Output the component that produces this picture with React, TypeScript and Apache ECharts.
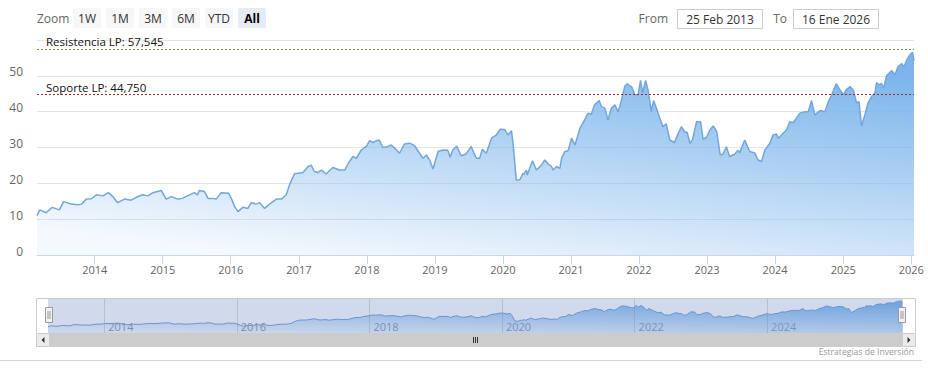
import React, { useEffect, useRef } from 'react';
import * as echarts from 'echarts';

// ---- DATA ----
const priceHistory: [string, number][] = [
  ['2013-02-25', 11.0], ['2013-03-12', 12.6], ['2013-04-15', 11.8], ['2013-05-17', 13.3], ['2013-06-25', 12.6],
  ['2013-07-18', 14.9], ['2013-08-27', 14.2], ['2013-10-02', 14.0], ['2013-10-22', 14.2], ['2013-11-17', 15.6],
  ['2013-12-14', 15.7], ['2014-01-10', 16.8], ['2014-02-14', 16.5], ['2014-03-15', 17.4], ['2014-04-08', 16.3],
  ['2014-05-04', 14.6], ['2014-06-10', 15.6], ['2014-07-15', 15.3], ['2014-08-12', 16.1], ['2014-09-16', 16.8],
  ['2014-10-13', 16.5], ['2014-11-09', 17.4], ['2014-12-24', 18.0], ['2015-01-20', 15.6], ['2015-02-16', 16.3],
  ['2015-03-22', 15.6], ['2015-04-16', 15.8], ['2015-05-14', 16.5], ['2015-06-20', 17.4], ['2015-07-07', 16.8],
  ['2015-07-16', 18.0], ['2015-08-13', 17.7], ['2015-09-01', 15.8], ['2015-09-27', 15.8], ['2015-10-15', 15.6],
  ['2015-11-11', 17.4], ['2015-12-21', 17.2], ['2016-01-04', 15.8], ['2016-01-22', 13.5], ['2016-02-09', 12.1],
  ['2016-03-06', 13.3], ['2016-04-02', 13.0], ['2016-04-20', 14.6], ['2016-05-17', 14.2], ['2016-06-04', 14.6],
  ['2016-07-01', 13.0], ['2016-07-27', 14.2], ['2016-09-02', 15.6], ['2016-09-29', 15.6], ['2016-10-25', 16.8],
  ['2016-11-13', 19.8], ['2016-12-09', 22.7], ['2017-01-23', 23.0], ['2017-02-19', 24.7], ['2017-03-08', 25.1],
  ['2017-03-25', 23.3], ['2017-04-12', 23.0], ['2017-05-01', 23.7], ['2017-05-27', 22.6], ['2017-07-02', 24.4],
  ['2017-08-07', 23.7], ['2017-09-04', 23.7], ['2017-09-21', 25.4], ['2017-10-18', 27.5], ['2017-11-05', 27.0],
  ['2017-12-02', 29.3], ['2017-12-29', 30.3], ['2018-01-16', 31.9], ['2018-02-03', 31.4], ['2018-02-22', 31.9],
  ['2018-03-09', 32.1], ['2018-03-27', 30.0], ['2018-04-23', 30.3], ['2018-05-11', 30.7], ['2018-05-29', 29.9],
  ['2018-06-25', 28.4], ['2018-07-22', 31.0], ['2018-08-18', 31.2], ['2018-09-14', 30.5], ['2018-10-11', 28.4],
  ['2018-10-29', 27.0], ['2018-11-16', 27.9], ['2018-12-04', 26.5], ['2018-12-22', 24.0], ['2019-01-18', 28.9],
  ['2019-02-14', 29.3], ['2019-03-11', 29.2], ['2019-03-24', 27.3], ['2019-04-07', 29.3], ['2019-04-28', 30.4],
  ['2019-05-22', 27.7], ['2019-06-18', 28.2], ['2019-07-15', 30.3], ['2019-08-11', 27.0], ['2019-08-29', 27.0],
  ['2019-09-13', 29.5], ['2019-10-04', 28.4], ['2019-11-01', 32.6], ['2019-11-27', 33.5], ['2019-12-18', 35.1],
  ['2020-01-11', 35.0], ['2020-01-29', 33.5], ['2020-02-16', 34.7], ['2020-02-25', 31.0], ['2020-03-13', 20.9],
  ['2020-04-01', 21.0], ['2020-04-18', 22.8], ['2020-04-23', 22.5], ['2020-05-06', 23.7], ['2020-05-11', 22.3],
  ['2020-06-08', 26.3], ['2020-06-29', 23.7], ['2020-07-26', 25.1], ['2020-08-13', 26.5], ['2020-08-31', 25.4],
  ['2020-09-18', 24.7], ['2020-09-27', 23.7], ['2020-10-15', 24.7], ['2020-11-02', 24.2], ['2020-11-11', 27.0],
  ['2020-11-29', 28.9], ['2020-12-16', 29.1], ['2021-01-04', 32.6], ['2021-01-22', 30.7], ['2021-02-18', 35.4],
  ['2021-03-15', 37.7], ['2021-04-02', 39.6], ['2021-04-20', 39.3], ['2021-05-07', 41.9], ['2021-06-01', 43.1],
  ['2021-06-13', 41.4], ['2021-07-01', 41.0], ['2021-07-18', 37.7], ['2021-08-06', 41.0], ['2021-08-24', 41.9],
  ['2021-09-11', 40.0], ['2021-09-29', 43.3], ['2021-10-16', 47.0], ['2021-10-29', 47.8], ['2021-11-12', 47.2],
  ['2021-11-22', 47.0], ['2021-12-09', 44.7], ['2021-12-27', 44.7], ['2022-01-09', 48.7], ['2022-01-20', 45.2],
  ['2022-02-05', 48.7], ['2022-02-19', 45.9], ['2022-03-08', 40.0], ['2022-03-20', 43.1], ['2022-04-04', 41.0],
  ['2022-04-22', 38.2], ['2022-05-09', 35.8], ['2022-05-27', 36.6], ['2022-06-15', 32.1], ['2022-07-11', 31.4],
  ['2022-07-29', 33.8], ['2022-08-16', 35.8], ['2022-09-03', 34.4], ['2022-09-16', 34.2], ['2022-10-01', 31.2],
  ['2022-10-15', 32.2], ['2022-11-06', 37.2], ['2022-11-27', 37.2], ['2022-12-11', 32.3], ['2022-12-29', 32.8],
  ['2023-01-16', 34.9], ['2023-02-03', 36.0], ['2023-02-22', 34.4], ['2023-03-13', 27.9], ['2023-03-27', 28.1],
  ['2023-04-15', 30.2], ['2023-05-02', 27.5], ['2023-05-29', 28.1], ['2023-06-16', 29.2], ['2023-06-25', 28.5],
  ['2023-07-22', 32.1], ['2023-08-18', 28.9], ['2023-09-14', 28.5], ['2023-10-02', 26.5], ['2023-10-20', 26.1],
  ['2023-11-08', 29.3], ['2023-12-04', 31.2], ['2023-12-21', 33.5], ['2024-01-09', 33.8], ['2024-01-18', 32.6],
  ['2024-02-05', 33.5], ['2024-03-02', 34.9], ['2024-03-20', 37.2], ['2024-04-07', 36.9], ['2024-04-21', 37.9],
  ['2024-05-13', 39.6], ['2024-06-09', 40.0], ['2024-06-27', 40.0], ['2024-07-15', 43.1], ['2024-08-02', 39.1],
  ['2024-08-29', 40.3], ['2024-09-25', 40.0], ['2024-10-13', 42.8], ['2024-11-01', 44.7], ['2024-11-24', 47.8],
  ['2024-12-15', 46.1], ['2025-01-02', 44.7], ['2025-01-16', 46.1], ['2025-02-07', 47.0], ['2025-02-25', 45.9],
  ['2025-03-13', 42.5], ['2025-03-27', 42.8], ['2025-04-09', 36.0], ['2025-04-27', 39.1], ['2025-05-14', 42.4],
  ['2025-06-02', 44.2], ['2025-06-20', 45.2], ['2025-06-29', 48.1], ['2025-07-12', 47.5], ['2025-07-25', 47.9],
  ['2025-08-07', 46.6], ['2025-08-21', 50.0], ['2025-09-18', 51.5], ['2025-10-05', 50.3], ['2025-10-23', 52.6],
  ['2025-11-11', 53.4], ['2025-11-23', 52.5], ['2025-12-07', 54.3], ['2025-12-25', 55.9], ['2026-01-08', 56.6],
  ['2026-01-16', 54.2],
];

const levelNames = ['Resistencia LP', 'Soporte LP'];
const levelValues = [57.545, 44.75];

const yTickMax = 60;
const yTickStep = 10;
const mainAxisYears = [2014, 2015, 2016, 2017, 2018, 2019, 2020, 2021, 2022, 2023, 2024, 2025, 2026];
const navigatorYears = [2014, 2016, 2018, 2020, 2022, 2024];
const zoomButtons = ['1W', '1M', '3M', '6M', 'YTD', 'All'];
const fromLabel = '25 Feb 2013';
const toLabel = '16 Ene 2026';
const creditText = 'Estrategias de Inversión';

// ---- helpers ----
const FONT = "'Open Sans', sans-serif";
const toTs = (s: string) => {
  const [y, m, d] = s.split('-').map(Number);
  return new Date(y, m - 1, d).getTime();
};
const yearTs = (y: number) => new Date(y, 0, 1).getTime();
const seriesData = priceHistory.map(([d, v]) => [toTs(d), v]);
const xMin = toTs(priceHistory[0][0]);
const xMax = toTs(priceHistory[priceHistory.length - 1][0]);
const fmtLevel = (v: number) => v.toFixed(3).replace('.', ',');
const yearLabel = (v: number) => String(new Date(v + 86400000).getFullYear());

const areaGradient = () =>
  new echarts.graphic.LinearGradient(0.75, 0, 0.25, 1, [
    { offset: 0, color: 'rgba(124,181,236,1)' },
    { offset: 1, color: 'rgba(124,181,236,0.08)' },
  ]);

function buildGraphics() {
  const g: any[] = [];
  g.push({
    type: 'text', x: 37, y: 18,
    style: { text: 'Zoom', fill: '#666666', fontSize: 12, fontFamily: FONT, align: 'left', verticalAlign: 'middle' },
  });
  zoomButtons.forEach((label, i) => {
    const x = 73 + i * 33;
    const sel = label === 'All';
    g.push({ type: 'rect', shape: { x, y: 8, width: 28, height: 20, r: 2 }, style: { fill: sel ? '#e6ebf5' : '#f7f7f7' } });
    g.push({
      type: 'text', x: x + 14, y: 18,
      style: {
        text: label, fill: sel ? '#000000' : '#333333', fontSize: 12, fontWeight: sel ? 'bold' : 'normal',
        fontFamily: FONT, align: 'center', verticalAlign: 'middle',
      },
    });
  });
  g.push({ type: 'text', x: 668, y: 18, style: { text: 'From', fill: '#666666', fontSize: 12, fontFamily: FONT, align: 'right', verticalAlign: 'middle' } });
  g.push({ type: 'rect', shape: { x: 677.5, y: 9.5, width: 85, height: 19 }, style: { fill: '#ffffff', stroke: '#cccccc', lineWidth: 1 } });
  g.push({ type: 'text', x: 720, y: 19, style: { text: fromLabel, fill: '#333333', fontSize: 12, fontFamily: FONT, align: 'center', verticalAlign: 'middle' } });
  g.push({ type: 'text', x: 787, y: 18, style: { text: 'To', fill: '#666666', fontSize: 12, fontFamily: FONT, align: 'right', verticalAlign: 'middle' } });
  g.push({ type: 'rect', shape: { x: 793.5, y: 9.5, width: 85, height: 19 }, style: { fill: '#ffffff', stroke: '#cccccc', lineWidth: 1 } });
  g.push({ type: 'text', x: 836, y: 19, style: { text: toLabel, fill: '#333333', fontSize: 12, fontFamily: FONT, align: 'center', verticalAlign: 'middle' } });

  // navigator chrome
  g.push({ type: 'rect', z: 5, shape: { x: 48, y: 299, width: 855, height: 34 }, style: { fill: 'rgba(102,133,194,0.3)' } });
  g.push({
    type: 'polyline', z: 6,
    shape: { points: [[36.5, 333], [36.5, 298.5], [915.5, 298.5], [915.5, 333]] },
    style: { stroke: '#cccccc', lineWidth: 1, fill: 'none' },
  });
  [45.5, 898.5].forEach((hx) => {
    g.push({ type: 'rect', z: 7, shape: { x: hx, y: 307.5, width: 7, height: 15 }, style: { fill: '#f2f2f2', stroke: '#999999', lineWidth: 1 } });
    g.push({ type: 'line', z: 8, shape: { x1: hx + 2.5, y1: 311, x2: hx + 2.5, y2: 319 }, style: { stroke: '#999999', lineWidth: 1 } });
    g.push({ type: 'line', z: 8, shape: { x1: hx + 4.5, y1: 311, x2: hx + 4.5, y2: 319 }, style: { stroke: '#999999', lineWidth: 1 } });
  });
  // scrollbar
  g.push({ type: 'rect', z: 5, shape: { x: 36.5, y: 333.5, width: 879, height: 13 }, style: { fill: '#f2f2f2', stroke: '#f2f2f2' } });
  g.push({ type: 'rect', z: 6, shape: { x: 49.5, y: 333.5, width: 853, height: 13 }, style: { fill: '#cccccc', stroke: '#cccccc' } });
  g.push({ type: 'rect', z: 6, shape: { x: 36.5, y: 333.5, width: 13, height: 13 }, style: { fill: '#ebebeb', stroke: '#cccccc' } });
  g.push({ type: 'rect', z: 6, shape: { x: 902.5, y: 333.5, width: 13, height: 13 }, style: { fill: '#ebebeb', stroke: '#cccccc' } });
  g.push({ type: 'polygon', z: 7, shape: { points: [[44.5, 337], [44.5, 343], [41.5, 340]] }, style: { fill: '#333333' } });
  g.push({ type: 'polygon', z: 7, shape: { points: [[907.5, 337], [907.5, 343], [910.5, 340]] }, style: { fill: '#333333' } });
  [473.5, 475.5, 477.5].forEach((lx) => {
    g.push({ type: 'line', z: 7, shape: { x1: lx, y1: 337, x2: lx, y2: 343 }, style: { stroke: '#333333', lineWidth: 1 } });
  });
  // credits + bottom rule
  g.push({ type: 'text', x: 914, y: 352, style: { text: creditText, fill: '#999999', fontSize: 8.6, fontFamily: FONT, align: 'right', verticalAlign: 'middle' } });
  g.push({ type: 'line', shape: { x1: 0, y1: 360.5, x2: 922, y2: 360.5 }, style: { stroke: '#d6d6d6', lineWidth: 1 } });
  return g;
}

export default function App() {
  const ref = useRef<HTMLDivElement>(null);
  useEffect(() => {
    if (!ref.current) return;
    const chart = echarts.init(ref.current, null, { renderer: 'svg' });
    const levelColors = ['#5e9c48', '#9a2b2b'];
    const option: any = {
      animation: false,
      backgroundColor: '#ffffff',
      textStyle: { fontFamily: FONT },
      grid: [
        { left: 37, right: 14, top: 40, bottom: 121 },
        { left: 48, right: 25.5, top: 299, height: 34 },
      ],
      xAxis: [
        {
          type: 'value', gridIndex: 0, min: xMin, max: xMax, scale: true,
          axisLine: { show: true, lineStyle: { color: '#ccd6eb' } },
          axisTick: { show: true, length: 9, customValues: mainAxisYears.map(yearTs), lineStyle: { color: '#ccd6eb' } },
          axisLabel: {
            customValues: mainAxisYears.map(yearTs),
            formatter: yearLabel,
            color: '#666666', fontSize: 11, fontFamily: FONT, margin: 9,
          },
          splitLine: { show: false },
        },
        {
          type: 'value', gridIndex: 1, min: xMin, max: xMax, scale: true,
          axisLine: { show: false },
          axisTick: { show: false },
          axisLabel: {
            customValues: navigatorYears.map(yearTs),
            formatter: yearLabel,
            inside: true, align: 'left', padding: [0, 0, 0, 4],
            color: '#8a8a8a', fontSize: 11, fontFamily: FONT, margin: 1,
          },
          splitLine: { show: false },
        },
      ],
      yAxis: [
        {
          type: 'value', gridIndex: 0, min: 0, max: yTickMax, interval: yTickStep,
          axisLine: { show: false }, axisTick: { show: false },
          axisLabel: {
            color: '#666666', fontSize: 12, fontFamily: FONT, margin: 14,
            showMaxLabel: false, verticalAlign: 'bottom', lineHeight: 8,
          },
          splitLine: { lineStyle: { color: '#e6e6e6' } },
        },
        {
          type: 'value', gridIndex: 1, min: 0, max: yTickMax, show: false,
          splitLine: { show: false },
        },
      ],
      series: [
        {
          type: 'line', xAxisIndex: 0, yAxisIndex: 0, data: seriesData,
          showSymbol: false, symbol: 'none',
          lineStyle: { color: '#72a6dc', width: 1.5 },
          itemStyle: { color: '#72a6dc' },
          areaStyle: { color: areaGradient(), opacity: 1 },
          markLine: {
            silent: true, symbol: ['none', 'none'], precision: 3,
            data: levelValues.map((v, i) => ({
              yAxis: v, name: levelNames[i],
              lineStyle: { color: levelColors[i], type: [2, 2], width: 1 },
            })),
            label: {
              show: true, position: 'insideStartTop', distance: [9, 1],
              formatter: (p: any) => `${p.name}: ${fmtLevel(levelValues[p.dataIndex] ?? p.value)}`,
              color: '#111111', fontSize: 11.5, fontFamily: FONT,
            },
          },
        },
        {
          type: 'line', xAxisIndex: 1, yAxisIndex: 1, data: seriesData,
          showSymbol: false, symbol: 'none',
          lineStyle: { color: '#6a9bd8', width: 1 },
          areaStyle: { color: areaGradient(), opacity: 1 },
          markLine: {
            silent: true, symbol: ['none', 'none'],
            data: navigatorYears.map((y) => ({ xAxis: yearTs(y) })),
            lineStyle: { color: 'rgba(140,140,140,0.35)', type: 'solid', width: 1 },
            label: { show: false },
          },
        },
      ],
      graphic: buildGraphics(),
    };
    chart.setOption(option);
    return () => chart.dispose();
  }, []);
  return (
    <div
      ref={ref}
      style={{ position: 'absolute', left: 0, top: 0, width: 928, height: 376, background: '#ffffff' }}
    />
  );
}
